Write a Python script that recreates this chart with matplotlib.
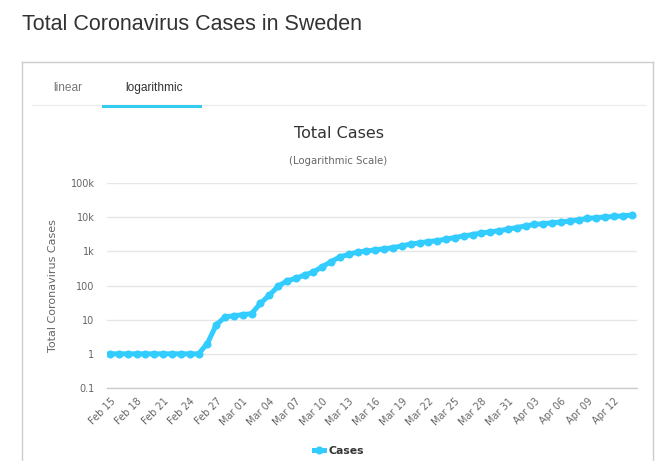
import matplotlib
matplotlib.use("Agg")
import matplotlib.pyplot as plt
from matplotlib.lines import Line2D
import datetime as dt

# ---- data ----
start_date = dt.date(2020, 2, 15)
cases = [1, 1, 1, 1, 1, 1, 1, 1, 1, 1, 1,          # Feb 15 - Feb 25
         2, 7, 12, 13,                               # Feb 26 - Feb 29
         14, 15, 30, 52, 94, 137, 161, 203, 248, 355,
         500, 687, 814, 961, 1022, 1103, 1190, 1279, 1439, 1639,
         1763, 1934, 2046, 2286, 2526, 2840, 3069, 3447, 3700, 4028,
         4435,                                       # Mar 1 - Mar 31
         4947, 5568, 6131, 6443, 6830, 7206, 7693, 8419, 9141, 9685,
         10151, 10483, 10948, 11445]                 # Apr 1 - Apr 14
dates = [start_date + dt.timedelta(days=i) for i in range(len(cases))]
date_labels = [d.strftime("%b %d") for d in dates]
y_ticks = [0.1, 1, 10, 100, 1000, 10000, 100000]
y_tick_labels = ["0.1", "1", "10", "100", "1k", "10k", "100k"]

W, H = 659, 461
fig = plt.figure(figsize=(W / 100, H / 100), dpi=100)
fig.patch.set_facecolor("white")

def fx(px):
    return px / W

def fy(py):
    return 1 - py / H

# ---- page elements ----
fig.text(fx(22), fy(24), "Total Coronavirus Cases in Sweden", fontsize=15.5,
         family="Liberation Sans", color="#333333", va="center", ha="left")
box_c = "#cccccc"
fig.add_artist(Line2D([fx(22), fx(653)], [fy(62), fy(62)], color=box_c, lw=1))
fig.add_artist(Line2D([fx(22), fx(22)], [fy(62), fy(461)], color=box_c, lw=1))
fig.add_artist(Line2D([fx(653), fx(653)], [fy(62), fy(461)], color=box_c, lw=1))
fig.add_artist(Line2D([fx(32), fx(645)], [fy(105), fy(105)], color="#eeeeee", lw=1))
fig.add_artist(Line2D([fx(103), fx(200)], [fy(106), fy(106)], color="#33ccee", lw=2.2))
fig.text(fx(68), fy(88), "linear", fontsize=8.6, family="Liberation Sans",
         color="#777777", ha="center", va="center")
fig.text(fx(154), fy(88), "logarithmic", fontsize=8.6, family="Liberation Sans",
         color="#333333", ha="center", va="center")

fig.text(fx(339), fy(134), "Total Cases", fontsize=11.5, family="DejaVu Sans",
         color="#333333", ha="center", va="center")
fig.text(fx(338), fy(161), "(Logarithmic Scale)", fontsize=7.3, family="DejaVu Sans",
         color="#666666", ha="center", va="center")

# ---- chart ----
ax = fig.add_axes([fx(107), fy(388), (637 - 107) / W, (388 - 183) / H])
x = list(range(len(cases)))
ax.plot(x, cases, color="#33ccff", lw=3.6, marker="o", ms=5.8,
        markeredgewidth=0, solid_joinstyle="round", zorder=3)
ax.set_yscale("log")
ax.set_ylim(0.1, 100000)
ax.set_xlim(-0.35, 59.6)
ax.set_yticks(y_ticks)
ax.set_yticklabels(y_tick_labels)
ax.minorticks_off()
ax.yaxis.grid(True, color="#e6e6e6", lw=1)
ax.set_axisbelow(True)
for s in ["top", "right", "left"]:
    ax.spines[s].set_visible(False)
ax.spines["bottom"].set_color("#cccccc")
ax.spines["bottom"].set_linewidth(1)
ax.set_xticks(x[::3])
ax.set_xticklabels(date_labels[::3], rotation=45, ha="right", va="top",
                   rotation_mode="anchor")
ax.tick_params(axis="x", length=0, pad=6, labelsize=7.0, labelcolor="#666666")
ax.tick_params(axis="y", length=0, pad=9, labelsize=7.0, labelcolor="#666666")
ax.set_ylabel("Total Coronavirus Cases", fontsize=8.0, color="#666666", labelpad=9)

handle = Line2D([], [], color="#33ccff", lw=3.6, marker="o", ms=5.8, markeredgewidth=0)
fig.legend(handles=[handle], labels=["Cases"], loc="center",
           bbox_to_anchor=(fx(339), fy(451)), frameon=False, handlelength=1.0,
           handletextpad=0.4, prop={"weight": "bold", "size": 7.8})
for t in fig.legends[0].get_texts():
    t.set_color("#333333")

fig.savefig("out.png", dpi=100, facecolor="white")
